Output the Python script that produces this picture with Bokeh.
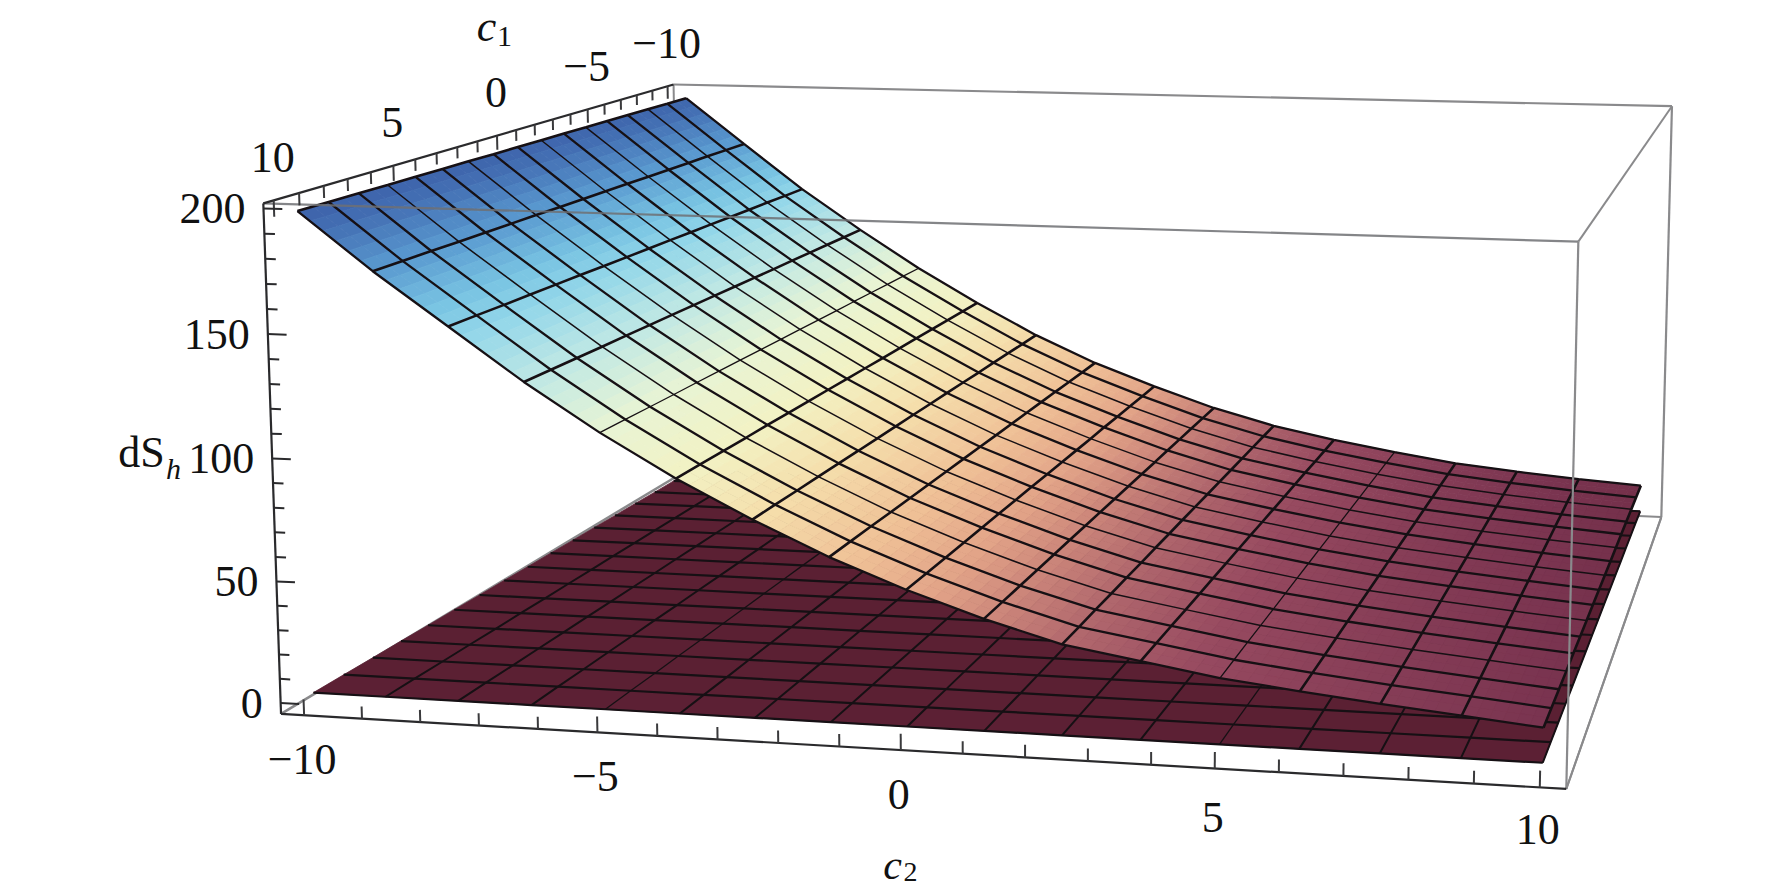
import numpy as np
from bokeh.plotting import figure
from bokeh.models import Range1d
from bokeh.core.properties import value
from bokeh.embed import file_html
from bokeh.resources import INLINE

# ---------- axes ----------
c_nodes = [-10, -8.75, -7.5, -6.25, -5, -3.75, -2.5, -1.25, 0, 1.25, 2.5, 3.75, 5, 6.25, 7.5, 8.75, 10]
c1_major = [-10, -5, 0, 5, 10]
c2_major = [-10, -5, 0, 5, 10]
z_major = [0, 50, 100, 150, 200]
c_minor = list(range(-10, 11))
z_minor = list(range(0, 201, 10))
major_labels_c = ["\u221210", "\u22125", "0", "5", "10"]
major_labels_z = ["0", "50", "100", "150", "200"]

# ---------- upper surface dS_h: rows c2 = -10..10, columns c1 = -10..10 ----------
upper_z = [
 [196.0,196.1,196.3,196.4,196.5,196.6,196.8,196.9,197.0,197.1,197.3,197.4,197.5,197.6,197.8,197.9,198.0],
 [173.0,173.1,173.3,173.4,173.5,173.6,173.8,173.9,174.0,174.1,174.3,174.4,174.5,174.6,174.8,174.9,175.0],
 [150.3,150.5,150.8,151.0,151.2,151.5,151.7,152.0,152.2,152.4,152.6,152.9,153.1,153.3,153.5,153.8,154.0],
 [130.0,130.2,130.4,130.6,130.8,130.9,131.1,131.3,131.5,131.7,131.9,132.1,132.3,132.4,132.6,132.8,133.0],
 [111.0,111.2,111.4,111.6,111.8,111.9,112.1,112.3,112.5,112.7,112.9,113.1,113.3,113.4,113.6,113.8,114.0],
 [94.0,94.2,94.4,94.6,94.8,94.9,95.1,95.3,95.5,95.7,95.9,96.1,96.3,96.4,96.6,96.8,97.0],
 [78.3,78.5,78.8,79.0,79.2,79.5,79.7,79.9,80.2,80.4,80.6,80.8,81.1,81.3,81.5,81.8,82.0],
 [65.0,65.2,65.4,65.7,65.9,66.1,66.3,66.5,66.8,67.0,67.2,67.4,67.6,67.8,68.1,68.3,68.5],
 [54.0,54.2,54.4,54.6,54.8,54.9,55.1,55.3,55.5,55.7,55.9,56.1,56.3,56.4,56.6,56.8,57.0],
 [44.0,44.2,44.4,44.6,44.8,44.9,45.1,45.3,45.5,45.7,45.9,46.1,46.3,46.4,46.6,46.8,47.0],
 [36.0,36.2,36.3,36.5,36.6,36.8,36.9,37.1,37.3,37.4,37.6,37.7,37.9,38.0,38.2,38.3,38.5],
 [30.0,30.2,30.4,30.7,30.9,31.1,31.3,31.5,31.8,32.0,32.2,32.4,32.6,32.8,33.1,33.3,33.5],
 [25.0,25.2,25.4,25.7,25.9,26.1,26.3,26.5,26.8,27.0,27.2,27.4,27.6,27.8,28.1,28.3,28.5],
 [20.5,20.8,21.1,21.3,21.6,21.9,22.2,22.5,22.8,23.0,23.3,23.6,23.9,24.2,24.4,24.7,25.0],
 [17.5,17.8,18.0,18.3,18.6,18.8,19.1,19.4,19.7,19.9,20.2,20.5,20.7,21.0,21.3,21.5,21.8],
 [15.0,15.2,15.5,15.7,16.0,16.2,16.5,16.7,17.0,17.2,17.4,17.7,17.9,18.2,18.4,18.7,18.9],
 [13.0,13.2,13.4,13.6,13.8,13.9,14.1,14.3,14.5,14.7,14.9,15.1,15.3,15.4,15.6,15.8,16.0],
]

# ---------- lower surface: nearly flat; one typed profile across c1 ----------
lower_profile = [0.0,0.2,0.3,0.5,0.6,0.8,0.9,1.1,1.2,1.4,1.5,1.7,1.8,2.0,2.1,2.3,2.4]
lower_z = [lower_profile for _ in c_nodes]

# ---------- colour scale (dS_h -> colour) ----------
scale_z = [2, 16, 30, 47, 54, 65, 82, 97, 114, 132, 150, 160, 175, 190, 198]
scale_col = ["#5b2033", "#7a3450", "#974a60", "#cf8a7c", "#e2a488", "#efc096", "#f5dfac", "#f2f2c4",
             "#e8f4d4", "#c0e8e4", "#92d6e9", "#78c3e2", "#5a9ad0", "#4470b4", "#3d62aa"]

# ---------- view: box corners on the page, (c1, c2, z) -> (px, py) ----------
C_PAD = 10.4
Z_LO, Z_HI = -4.5, 202.0
corner_world = [(s1 * C_PAD, s2 * C_PAD, z) for z in (Z_LO, Z_HI) for s1 in (1, -1) for s2 in (-1, 1)]
corner_page = [(280, 713), (1567, 788), (680, 474), (1660, 517),
               (263, 203), (1577, 242), (673, 84), (1672, 105)]

def norm(c1, c2, z):
    return np.asarray(c1, float) / C_PAD, np.asarray(c2, float) / C_PAD, (np.asarray(z, float) - 100) / 100

A = []
for (w, s) in zip(corner_world, corner_page):
    X, Y, Z = [float(v) for v in norm(*w)]
    u, v = s
    A.append([X, Y, Z, 1, 0, 0, 0, 0, -u * X, -u * Y, -u * Z, -u])
    A.append([0, 0, 0, 0, X, Y, Z, 1, -v * X, -v * Y, -v * Z, -v])
P = np.linalg.svd(np.array(A))[2][-1].reshape(3, 4)

def project(c1, c2, z):
    X, Y, Z = norm(c1, c2, z)
    h = P[2, 0] * X + P[2, 1] * Y + P[2, 2] * Z + P[2, 3]
    return ((P[0, 0] * X + P[0, 1] * Y + P[0, 2] * Z + P[0, 3]) / h,
            (P[1, 0] * X + P[1, 1] * Y + P[1, 2] * Z + P[1, 3]) / h)

def colour(z):
    rgb = [[int(c[i:i + 2], 16) for i in (1, 3, 5)] for c in scale_col]
    vals = [np.interp(z, scale_z, [r[k] for r in rgb]) for k in range(3)]
    return "#%02x%02x%02x" % tuple(int(round(v)) for v in vals)

p = figure(width=1773, height=887, x_range=Range1d(0, 1773), y_range=Range1d(887, 0),
           output_backend="svg", toolbar_location=None, min_border=0,
           background_fill_color="white", border_fill_color="white")
p.axis.visible = False
p.grid.visible = False
p.outline_line_color = None

def edge(a, b, color, width, alpha=1.0):
    xs, ys = project([a[0], b[0]], [a[1], b[1]], [a[2], b[2]])
    p.line(list(xs), list(ys), line_color=color, line_width=width, line_alpha=alpha)

L, H = -C_PAD, C_PAD
BOX = "#8a8a8c"
# back edges of the box, behind the surfaces
edge((L, L, Z_LO), (L, H, Z_LO), BOX, 2)
edge((L, H, Z_LO), (L, H, Z_HI), BOX, 2.2)
edge((L, L, Z_HI), (L, H, Z_HI), BOX, 2.2)
edge((H, H, Z_HI), (L, H, Z_HI), BOX, 2)
edge((H, H, Z_LO), (L, H, Z_LO), BOX, 2)
edge((L, L, Z_LO), (L, L, Z_HI), BOX, 2)
edge((H, L, Z_LO), (L, L, Z_LO), BOX, 2.6)

def draw_surface(table, sub1, sub2, thin_c1=(), thin_c2=(), skip_c2=(), w_c1=2.2, w_c2=2.2):
    zt = np.array(table, float)
    n2, n1 = zt.shape
    xs_all, ys_all, cols = [], [], []
    for i in range(n2 - 1):
        for j in range(n1 - 1):
            for a in range(sub2):
                for b in range(sub1):
                    fa = np.array([a, a, a + 1, a + 1]) / sub2
                    fb = np.array([b, b + 1, b + 1, b]) / sub1
                    c2 = c_nodes[i] + fa * (c_nodes[i + 1] - c_nodes[i])
                    c1 = c_nodes[j] + fb * (c_nodes[j + 1] - c_nodes[j])
                    z = (zt[i, j] * (1 - fa) * (1 - fb) + zt[i + 1, j] * fa * (1 - fb)
                         + zt[i, j + 1] * (1 - fa) * fb + zt[i + 1, j + 1] * fa * fb)
                    px, py = project(c1, c2, z)
                    xs_all.append(list(px))
                    ys_all.append(list(py))
                    cols.append(colour(float(z.mean())))
    p.patches(xs_all, ys_all, fill_color=cols, line_color=cols, line_width=0.8)
    # mesh: lines of constant c1 and of constant c2
    for j in range(n1):
        px, py = project([c_nodes[j]] * n2, c_nodes, zt[:, j])
        w = 1.5 if j in thin_c1 else w_c1
        p.line(list(px), list(py), line_color="#161014", line_width=w)
    for i in range(n2):
        if i in skip_c2:
            continue
        px, py = project(c_nodes, [c_nodes[i]] * n1, zt[i, :])
        w = 1.3 if i in thin_c2 else w_c2
        p.line(list(px), list(py), line_color="#161014", line_width=w)

draw_surface(lower_z, 1, 1, thin_c2=(4, 12), skip_c2=(0,), w_c1=2.2, w_c2=2.0)
draw_surface(upper_z, 2, 6, thin_c1=(2, 5, 7, 10, 13), thin_c2=(4, 12), w_c1=2.3, w_c2=2.6)

# front edges of the box, over the surfaces
edge((H, L, Z_HI), (H, H, Z_HI), "#6f7073", 2.2, 0.85)
edge((H, H, Z_LO), (H, H, Z_HI), BOX, 2.2)
edge((H, H, Z_LO), (L, H, Z_LO), BOX, 2)

# axes with ticks
AX = "#2a2a2c"
edge((H, L, Z_LO), (H, L, Z_HI), AX, 2.2)
edge((H, L, Z_LO), (H, H, Z_LO), AX, 2.2)
edge((H, L, Z_HI), (L, L, Z_HI), AX, 2.2)

for c in c_minor:
    long = c in c2_major
    edge((H, c, Z_LO), (H, c, Z_LO + (6.5 if long else 5)), "#3a3a3c", 2)
    long = c in c1_major
    edge((c, L, Z_HI), (c, L, Z_HI - (6.5 if long else 5)), "#3a3a3c", 2)
for z in z_minor:
    long = z in z_major
    edge((H, L, z), (H, L + (0.32 if long else 0.18), z), "#2a2a2c", 2)

SERIF = value("Liberation Serif")
SIZE = "44px"
SUB = "30px"

def label(x, y, s, align="center", size=SIZE, style="normal"):
    p.text([x], [y], text=[s], text_font=SERIF, text_font_size=size, text_font_style=style,
           text_align=align, text_baseline="middle", text_color="#111111")

for c, s in zip(c1_major, major_labels_c):
    x, y = project(c, L, Z_HI)
    label(float(x) - 1, float(y) - 43, s)
for c, s, dy in zip(c2_major, major_labels_c, [44, 44, 44, 49, 42]):
    x, y = project(H, c, Z_LO)
    label(float(x) - 2, float(y) + dy, s)
for z, s in zip(z_major, major_labels_z):
    x, y = project(H, L, z)
    label(float(x) - 18, float(y), s, align="right")

label(486, 26, "c", style="italic")
label(504, 36, "1", size=SUB)
label(892, 864, "c", size="42px", style="italic")
label(910, 871, "2", size="28px")
label(141, 452, "dS")
label(173, 468, "h", size=SUB, style="italic")

open("out.html", "w").write(file_html(p, INLINE))
